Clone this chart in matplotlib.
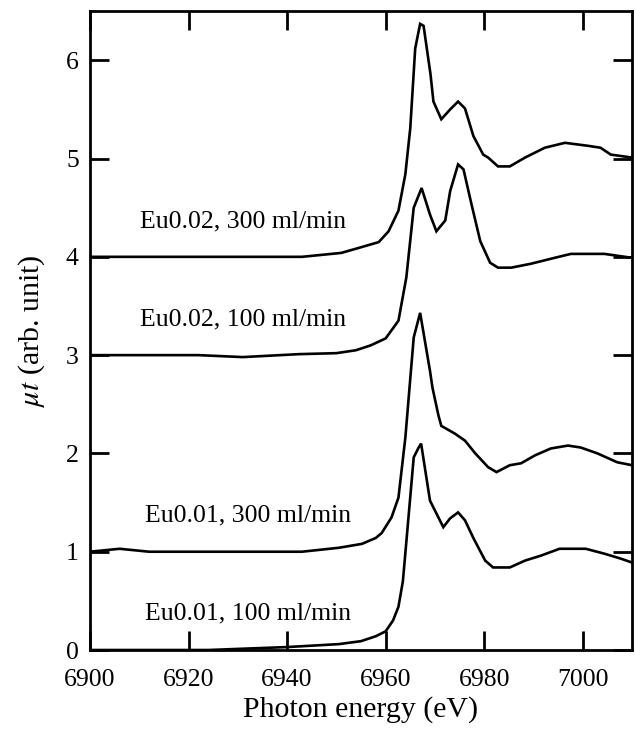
import matplotlib
matplotlib.use("Agg")
import matplotlib.pyplot as plt

plt.rcParams['font.family'] = ['Liberation Serif', 'DejaVu Serif']
plt.rcParams['mathtext.fontset'] = 'stix'

# Eu0.02, 300 ml/min (offset 4)
e_a = [6900, 6943, 6951, 6954.5, 6958.6, 6960.6, 6962.6, 6964, 6965, 6966, 6967, 6967.7,
       6969.1, 6969.7, 6971.3, 6973.1, 6974.7, 6976.1, 6977.8, 6979.8, 6980.8, 6982.8,
       6985.2, 6988.3, 6992.3, 6996.4, 7001, 7003.6, 7005.7, 7010]
mu_a = [4.0, 4.0, 4.04, 4.09, 4.15, 4.26, 4.47, 4.84, 5.31, 6.12, 6.37, 6.35,
        5.86, 5.58, 5.40, 5.50, 5.58, 5.51, 5.23, 5.04, 5.01, 4.92,
        4.92, 5.01, 5.11, 5.16, 5.13, 5.11, 5.04, 5.01]

# Eu0.02, 100 ml/min (offset 3)
e_b = [6900, 6922, 6931, 6942.4, 6950, 6954, 6957, 6960, 6962.6, 6964.2, 6965.7, 6967.3,
       6969, 6970.3, 6972.1, 6973.1, 6974.7, 6975.8, 6977.4, 6979.2, 6981.2, 6982.8,
       6985.5, 6989.5, 6994.3, 6997.6, 7004.4, 7010]
mu_b = [3.0, 3.0, 2.98, 3.01, 3.02, 3.05, 3.10, 3.17, 3.35, 3.79, 4.50, 4.70,
        4.43, 4.26, 4.37, 4.67, 4.94, 4.89, 4.54, 4.16, 3.94, 3.89,
        3.89, 3.93, 3.99, 4.03, 4.03, 3.99]

# Eu0.01, 300 ml/min (offset 1)
e_c = [6900, 6906, 6912, 6943, 6950.5, 6955.2, 6958, 6959.2, 6961.2, 6962.6, 6964, 6965.7,
       6967, 6969, 6969.5, 6970.7, 6971.3, 6974.1, 6976.1, 6978.2, 6980.8, 6982.5,
       6985.2, 6987.5, 6990.3, 6993.5, 6997, 6999.6, 7003, 7007, 7010]
mu_c = [1.0, 1.03, 1.0, 1.0, 1.04, 1.08, 1.14, 1.19, 1.35, 1.55, 2.16, 3.18,
        3.43, 2.84, 2.67, 2.39, 2.28, 2.20, 2.13, 2.00, 1.86, 1.81,
        1.88, 1.90, 1.98, 2.05, 2.08, 2.06, 2.00, 1.91, 1.88]

# Eu0.01, 100 ml/min (offset 0)
e_d = [6900, 6924, 6940, 6950.5, 6955, 6958, 6960, 6961.5, 6962.6, 6963.5, 6964.2, 6965.7, 6966.7,
       6967.2, 6969, 6971.7, 6973.1, 6974.7, 6976.1, 6977.8, 6980.2, 6981.8, 6985.2,
       6988.3, 6991.5, 6995.3, 7000.6, 7004.4, 7007.7, 7010]
mu_d = [0.0, 0.0, 0.03, 0.06, 0.09, 0.14, 0.19, 0.30, 0.44, 0.70, 1.10, 1.96, 2.06,
        2.10, 1.52, 1.25, 1.34, 1.40, 1.32, 1.14, 0.91, 0.84, 0.84,
        0.91, 0.96, 1.03, 1.03, 0.98, 0.93, 0.89]

labels = ["Eu0.02, 300 ml/min", "Eu0.02, 100 ml/min",
          "Eu0.01, 300 ml/min", "Eu0.01, 100 ml/min"]
label_x = [6931, 6931, 6932, 6932]
label_y = [4.36, 3.36, 1.37, 0.37]

fig = plt.figure(figsize=(6.35, 7.4), dpi=100)
ax = fig.add_axes([0.1417, 0.1216, 0.8536, 0.8634])

for e, m in [(e_a, mu_a), (e_b, mu_b), (e_c, mu_c), (e_d, mu_d)]:
    ax.plot(e, m, color='black', lw=1.9, solid_joinstyle='miter')

for t, x, y in zip(labels, label_x, label_y):
    ax.text(x, y, t, ha='center', va='center', fontsize=18.5)

ax.set_xlim(6900, 7010)
ax.set_ylim(0, 6.5)
ax.set_xticks([6900, 6920, 6940, 6960, 6980, 7000])
ax.set_yticks([0, 1, 2, 3, 4, 5, 6])
ax.tick_params(direction='in', length=14, width=2, labelsize=18.5,
               top=True, right=True)
ax.tick_params(axis='x', pad=14)
ax.tick_params(axis='y', pad=8)
for s in ax.spines.values():
    s.set_linewidth(2)

ax.set_xlabel('Photon energy (eV)', fontsize=21.5, labelpad=3)
ax.set_ylabel(r'$\mu t$ (arb. unit)', fontsize=21.5, labelpad=14)

fig.savefig('out.png', dpi=100)
